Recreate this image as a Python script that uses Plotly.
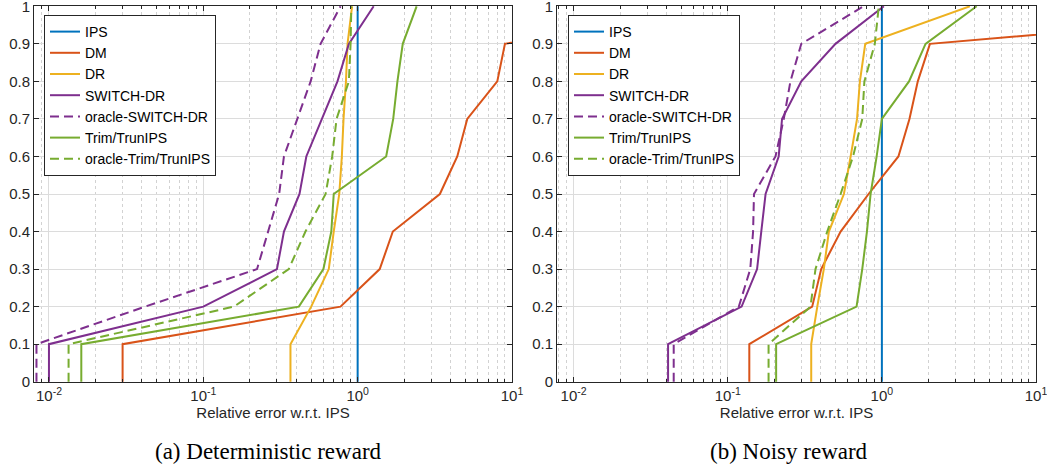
import plotly.graph_objects as go
import math

# ---------------- data ----------------
y_levels = [0, 0.1, 0.2, 0.3, 0.4, 0.5, 0.6, 0.7, 0.8, 0.9, 1.0]
series_names = ["IPS", "DM", "DR", "SWITCH-DR", "oracle-SWITCH-DR", "Trim/TrunIPS", "oracle-Trim/TrunIPS"]

# (a) Deterministic reward: relative error at each quantile level
det_ips = [1, 1, 1, 1, 1, 1, 1, 1, 1, 1, 1]
det_dm = [0.030, 0.030, 0.774, 1.39, 1.69, 3.41, 4.42, 5.13, 8.03, 9.0, 200]
det_dr = [0.367, 0.367, 0.50, 0.65, 0.70, 0.76, 0.79, 0.81, 0.84, 0.86, 0.92]
det_switch = [0.010, 0.010, 0.100, 0.300, 0.333, 0.420, 0.465, 0.586, 0.740, 0.877, 1.27]
det_oswitch = [0.0083, 0.0083, 0.042, 0.223, 0.263, 0.310, 0.333, 0.406, 0.496, 0.575, 0.775]
det_trim = [0.0162, 0.0162, 0.416, 0.600, 0.675, 0.700, 1.53, 1.70, 1.81, 1.96, 2.41]
det_otrim = [0.0134, 0.0134, 0.158, 0.358, 0.459, 0.620, 0.684, 0.730, 0.877, 0.900, 0.910]

# (b) Noisy reward
noisy_ips = [1, 1, 1, 1, 1, 1, 1, 1, 1, 1, 1]
noisy_dm = [0.138, 0.138, 0.353, 0.404, 0.540, 0.820, 1.28, 1.51, 1.71, 2.05, 1500]
noisy_dr = [0.348, 0.348, 0.381, 0.420, 0.453, 0.567, 0.627, 0.690, 0.720, 0.780, 3.72]
noisy_switch = [0.041, 0.041, 0.123, 0.155, 0.165, 0.176, 0.214, 0.225, 0.300, 0.500, 1.03]
noisy_oswitch = [0.0446, 0.0446, 0.118, 0.140, 0.146, 0.148, 0.204, 0.231, 0.255, 0.300, 0.760]
noisy_trim = [0.206, 0.206, 0.685, 0.746, 0.800, 0.845, 0.925, 1.00, 1.50, 1.92, 4.12]
noisy_otrim = [0.184, 0.184, 0.344, 0.371, 0.442, 0.540, 0.650, 0.746, 0.770, 0.900, 0.955]

y_tick_vals = [0, 0.1, 0.2, 0.3, 0.4, 0.5, 0.6, 0.7, 0.8, 0.9, 1]
y_tick_text = ["0", "0.1", "0.2", "0.3", "0.4", "0.5", "0.6", "0.7", "0.8", "0.9", "1"]
x_tick_vals = [0.01, 0.1, 1, 10]
x_tick_text = ["10<sup>-2</sup>", "10<sup>-1</sup>", "10<sup>0</sup>", "10<sup>1</sup>"]
x_title = "Relative error w.r.t. IPS"
captions = ["(a) Deterministic reward", "(b) Noisy reward"]

# ---------------- style ----------------
colors = ["#0072BD", "#D95319", "#EDB120", "#7E2F8E", "#7E2F8E", "#77AC30", "#77AC30"]
dashes = ["solid", "solid", "solid", "solid", "9px,5px", "solid", "9px,5px"]
FONT = "Liberation Sans, Arial, Helvetica, sans-serif"
SERIF = "Liberation Serif, Times New Roman, serif"
TXT = "#262626"

fig = go.Figure()
panels = [
    ([det_ips, det_dm, det_dr, det_switch, det_oswitch, det_trim, det_otrim], "x", "y", "legend"),
    ([noisy_ips, noisy_dm, noisy_dr, noisy_switch, noisy_oswitch, noisy_trim, noisy_otrim], "x2", "y2", "legend2"),
]
for data, xa, ya, lg in panels:
    for name, xs, c, d in zip(series_names, data, colors, dashes):
        fig.add_trace(go.Scatter(
            x=xs, y=y_levels, mode="lines", name=name,
            line=dict(color=c, width=2, dash=d),
            xaxis=xa, yaxis=ya, legend=lg, cliponaxis=True,
        ))

W, H = 1047, 467
def px_x(p):
    return p / W
def px_y(p):
    return 1 - p / H

xaxis_common = dict(
    type="log", showline=True, linecolor="#262626", linewidth=1, mirror="ticks",
    ticks="inside", ticklen=5, tickcolor="#262626", automargin=False,
    tickvals=x_tick_vals, ticktext=x_tick_text, ticklabeloverflow="allow",
    showgrid=True, gridcolor="#dcdcdc", gridwidth=1,
    minor=dict(ticks="inside", ticklen=3, tickcolor="#262626", dtick="D1",
               showgrid=True, gridcolor="#d2d2d2", griddash="dot", gridwidth=1),
    tickfont=dict(family=FONT, size=15, color=TXT),
    title=dict(text=x_title, font=dict(family=FONT, size=15, color=TXT), standoff=2),
    zeroline=False,
)
yaxis_common = dict(
    range=[-0.0008, 1.0008], showline=True, linecolor="#262626", linewidth=1, mirror="ticks",
    ticks="inside", ticklen=5, tickcolor="#262626", automargin=False,
    tickvals=y_tick_vals, ticktext=y_tick_text, ticklabeloverflow="allow",
    showgrid=True, gridcolor="#dcdcdc", gridwidth=1,
    tickfont=dict(family=FONT, size=15, color=TXT), zeroline=False,
    domain=[px_y(382), px_y(6)],
)
legend_common = dict(
    bgcolor="white", bordercolor="#262626", borderwidth=1,
    font=dict(family=FONT, size=14, color="black"),
    xanchor="left", yanchor="top", tracegroupgap=0, itemwidth=30,
)

fig.update_layout(
    width=W, height=H, margin=dict(l=0, r=0, t=0, b=0, autoexpand=False),
    paper_bgcolor="white", plot_bgcolor="white",
    xaxis=dict(xaxis_common, domain=[px_x(34), px_x(512)], range=[math.log10(0.008), 1], anchor="y"),
    yaxis=dict(yaxis_common, anchor="x"),
    xaxis2=dict(xaxis_common, domain=[px_x(557), px_x(1036)], range=[math.log10(0.0078), 1], anchor="y2"),
    yaxis2=dict(yaxis_common, anchor="x2"),
    legend=dict(legend_common, x=px_x(44), y=px_y(15)),
    legend2=dict(legend_common, x=px_x(568), y=px_y(15)),
    annotations=[
        dict(text=captions[0], x=px_x(268), y=px_y(451), xref="paper", yref="paper",
             xanchor="center", yanchor="middle",
             showarrow=False, font=dict(family=SERIF, size=23, color="black")),
        dict(text=captions[1], x=px_x(789), y=px_y(451), xref="paper", yref="paper",
             xanchor="center", yanchor="middle",
             showarrow=False, font=dict(family=SERIF, size=23, color="black")),
    ],
)

# remove the default page margin so the figure sits at the window's top-left corner
fig.write_html(
    "out.html",
    config={"displayModeBar": False},
    post_script="document.body.style.margin='0px';document.body.style.overflow='hidden';",
)
